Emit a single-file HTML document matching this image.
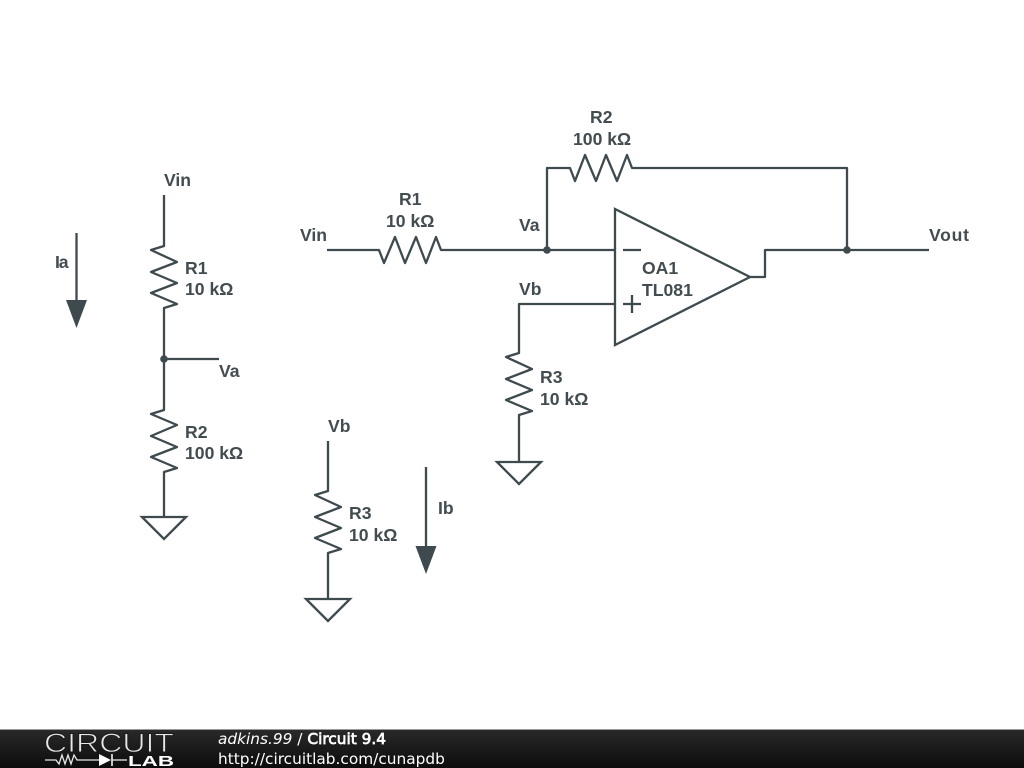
<!DOCTYPE html>
<html><head><meta charset="utf-8"><style>
html,body{margin:0;padding:0;background:#fff;width:1024px;height:768px;overflow:hidden}
svg{display:block}
.w{fill:none;stroke:#3f4a4f;stroke-width:2.3;stroke-linejoin:round}
text.l{font-family:"Liberation Sans",sans-serif;font-weight:bold;font-size:17.6px;fill:#434c50}
.f{font-family:"DejaVu Sans",sans-serif;font-size:15.35px;fill:#fff}
</style></head><body>
<svg width="1024" height="768" viewBox="0 0 1024 768" xmlns="http://www.w3.org/2000/svg">
<defs><linearGradient id="g" x1="0" y1="0" x2="0" y2="1"><stop offset="0" stop-color="#2a2a2a"/><stop offset="1" stop-color="#0c0c0c"/></linearGradient></defs>
<rect width="1024" height="768" fill="#fff"/>
<!-- left divider -->
<polyline class="w" points="164,195 164,246 151,250 177,262 151,272 177,283 151,293 177,304 164,308 164,410 151,414 177,425 151,436 177,447 151,457 177,468 164,472 164,517"/>
<line class="w" x1="164" y1="359" x2="219" y2="359"/>
<circle cx="164" cy="359" r="3.8" fill="#3f4a4f"/>
<polygon class="w" style="stroke-linejoin:miter" points="142,517 186,517 164,539"/>
<!-- Ia arrow -->
<line class="w" x1="76.5" y1="233" x2="76.5" y2="302"/>
<polygon points="66,300 87,300 76.5,328" fill="#3f4a4f"/>
<!-- Vb divider -->
<polyline class="w" points="328,441 328,491 315,495 341,507 315,517 341,528 315,538 341,549 328,553 328,599"/>
<polygon class="w" style="stroke-linejoin:miter" points="306,599 350,599 328,621"/>
<!-- Ib arrow -->
<line class="w" x1="426" y1="467" x2="426" y2="548"/>
<polygon points="415.500,546 436.500,546 426,574" fill="#3f4a4f"/>
<!-- op amp circuit -->
<polyline class="w" points="327,250 379,250 384,263 395,237 405,263 416,237 426,263 436,237 441,250 615,250"/>
<polyline class="w" points="547,250 547,168 570,168 575,181 585,155 596,181 606,155 617,181 627,155 632,168 847,168 847,250"/>
<polygon class="w" style="stroke-linejoin:miter" points="615,209 750,277 615,345"/>
<polyline class="w" points="750,277 765,277 765,250 929,250"/>
<line class="w" x1="623" y1="250" x2="641" y2="250"/>
<line class="w" x1="623" y1="304" x2="641" y2="304"/>
<line class="w" x1="632" y1="295" x2="632" y2="313"/>
<polyline class="w" points="615,304 519,304 519,353 506,357 532,369 506,379 532,390 506,400 532,411 519,415 519,462"/>
<polygon class="w" style="stroke-linejoin:miter" points="497,462 541,462 519,484"/>
<circle cx="547" cy="250" r="3.8" fill="#3f4a4f"/>
<circle cx="847" cy="250" r="3.8" fill="#3f4a4f"/>
<!-- labels -->
<text class="l" x="164" y="186">Vin</text>
<text class="l" x="55" y="268" textLength="13.500">Ia</text>
<text class="l" x="185" y="274">R1</text>
<text class="l" x="185" y="295">10 kΩ</text>
<text class="l" x="219" y="377">Va</text>
<text class="l" x="185" y="438">R2</text>
<text class="l" x="185" y="459">100 kΩ</text>
<text class="l" x="328" y="432">Vb</text>
<text class="l" x="349" y="519">R3</text>
<text class="l" x="349" y="541">10 kΩ</text>
<text class="l" x="438" y="514">Ib</text>
<text class="l" x="300" y="241">Vin</text>
<text class="l" x="399" y="205">R1</text>
<text class="l" x="386" y="227">10 kΩ</text>
<text class="l" x="590" y="123">R2</text>
<text class="l" x="573" y="145">100 kΩ</text>
<text class="l" x="519" y="231">Va</text>
<text class="l" x="519" y="295">Vb</text>
<text class="l" x="642" y="274">OA1</text>
<text class="l" x="642" y="296">TL081</text>
<text class="l" x="929" y="241" textLength="40">Vout</text>
<text class="l" x="540" y="383">R3</text>
<text class="l" x="540" y="405">10 kΩ</text>
<!-- footer -->
<rect x="0" y="729" width="1024" height="39" fill="url(#g)"/>
<rect x="0" y="729" width="1024" height="1" fill="#9a9a9a"/>
<text x="44" y="752" font-family="Liberation Sans,sans-serif" font-size="27" fill="#e8e8e8" stroke="#1c1c1c" stroke-width="0.9" textLength="130" lengthAdjust="spacingAndGlyphs">CIRCUIT</text>
<polyline fill="none" stroke="#e8e8e8" stroke-width="1.300" points="45,760 56,760 59,764 62,755 65,764 68,755 71,764 74,755 77,760 99,760"/>
<polygon points="99,754 99,766 111,760" fill="#fff"/>
<line x1="112" y1="754" x2="112" y2="766" stroke="#fff" stroke-width="1.500"/>
<line x1="112" y1="760" x2="127" y2="760" stroke="#e8e8e8" stroke-width="1.300"/>
<text x="128" y="766" font-family="Liberation Sans,sans-serif" font-weight="bold" font-size="15" fill="#fff" textLength="46" lengthAdjust="spacingAndGlyphs">LAB</text>
<text class="f" x="218" y="744"><tspan font-style="italic">adkins.99</tspan> / <tspan stroke="#fff" stroke-width="0.7">Circuit 9.4</tspan></text>
<text class="f" x="218" y="764">http://circuitlab.com/cunapdb</text>
</svg>
</body></html>
